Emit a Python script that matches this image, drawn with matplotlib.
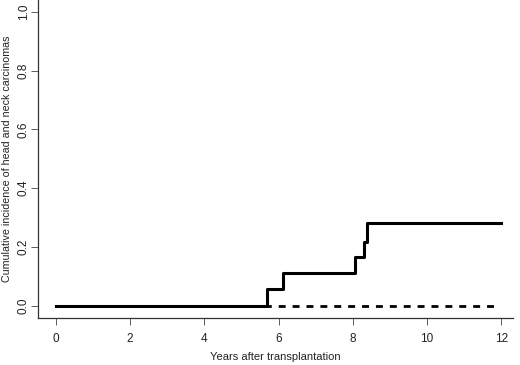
import matplotlib
matplotlib.use("Agg")
import matplotlib.pyplot as plt

plt.rcParams['font.family'] = ['Liberation Sans', 'DejaVu Sans']

# step curve for head and neck carcinomas (solid) and comparison group (dashed)
years_solid = [0.0, 5.68, 6.13, 8.06, 8.30, 8.38, 12.0]
incidence_solid = [0.0, 0.056, 0.110, 0.164, 0.218, 0.280, 0.280]

years_dashed = [0.0, 11.9]
incidence_dashed = [0.0, 0.0]

x_ticks = [0, 2, 4, 6, 8, 10, 12]
y_ticks = [0.0, 0.2, 0.4, 0.6, 0.8, 1.0]

fig = plt.figure(figsize=(5.2, 3.65), dpi=100)
ax = fig.add_axes([0.0731, 0.1296, 0.9134, 0.8704])

ax.step(years_dashed, incidence_dashed, where='post', color='black',
        lw=2.0, ls=(0, (2.5, 2.5)))
ax.step(years_solid, incidence_solid, where='post', color='black', lw=2.2)

ax.set_xlim(-0.485, 12.32)
ax.set_ylim(-0.041, 1.04)

ax.spines['top'].set_visible(False)
ax.spines['right'].set_visible(False)
for s in ('left', 'bottom'):
    ax.spines[s].set_linewidth(0.9)
    ax.spines[s].set_color('#333333')

ax.set_xticks(x_ticks)
ax.set_xticklabels([str(t) for t in x_ticks])
ax.set_yticks(y_ticks)
ax.set_yticklabels(['%.1f' % t for t in y_ticks], rotation=90, va='center')
ax.tick_params(direction='out', length=5, width=0.6, colors='#444444',
               labelcolor='#222222', labelsize=8.5)
ax.tick_params(axis='x', pad=6)
ax.tick_params(axis='y', pad=1)

ax.set_xlabel('Years after transplantation', fontsize=8, color='#222222', labelpad=5)
ax.set_ylabel('Cumulative incidence of head and neck carcinomas', fontsize=7.7,
              color='#222222', labelpad=4)

fig.savefig('out.png', dpi=100)
